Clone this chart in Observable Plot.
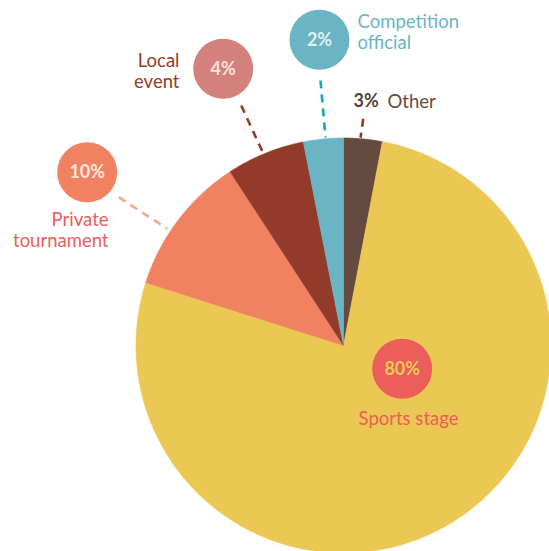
<!DOCTYPE html>
<html><head><meta charset="utf-8">
<script src="https://cdn.jsdelivr.net/npm/d3@7"></script>
<script src="https://cdn.jsdelivr.net/npm/@observablehq/plot@0.6"></script>
<style>html,body{margin:0;padding:0;overflow:hidden;background:#fff}</style>
</head><body><div id="chart"></div>
<script>
// ---- data (clockwise from 12 o'clock) ----
const categories = ["Other", "Sports stage", "Private tournament", "Local event", "Competition official"];
const sliceShares = [3.0, 76.9, 10.9, 6.1, 3.1];            // shares as drawn in the picture
const percentLabels = ["3%", "80%", "10%", "4%", "2%"];      // printed labels
const categoryLabels = ["Other", "Sports stage", "Private\ntournament", "Local\nevent", "Competition\nofficial"];

// ---- styles ----
const sliceColors = ["#654a3f", "#ebc854", "#f08262", "#933b2a", "#6ab5c3"];
const badgeColors = [null, "#eb5e5a", "#f08262", "#d4817e", "#6ab5c3"];
const badgeTextColors = ["#5a3f36", "#ebc854", "#fde6dc", "#f8e2df", "#dcf0f3"];
const labelColors = ["#654a3f", "#eb5e5a", "#eb5e5a", "#933b2a", "#6ab5c3"];
const leaderColors = ["#933b2a", null, "#f5a88d", "#933b2a", "#1aa5b8"];

// ---- layout (pixels) ----
const W = 549, H = 551;
const CX = 343, CY = 345, R = 207.5;
const badgePos = [null, [401.7, 368.3], [86.7, 171.7], [222.7, 68.3], [319, 39.3]];
const labelPos = [[387, 101], [408, 417.5], [108, 229.7], [179, 70.7], [357, 31.7]];
const labelAnchor = ["start", "middle", "end", "end", "start"];
const otherPctPos = [353, 101];
const leaderPos = [[362.7, 118.3, 360, 137.3], null, [118.3, 196.7, 166.7, 228.3], [240.7, 105, 263.3, 154], [320, 80, 325, 137]];

// ---- slice polygons from d3.pie ----
const arcs = d3.pie().sort(null).value(d => d)(sliceShares);
const slicePts = [];
arcs.forEach((a, i) => {
  const name = categories[i], color = sliceColors[i];
  slicePts.push({name, color, x: CX, y: CY});
  const n = Math.max(2, Math.ceil((a.endAngle - a.startAngle) / 0.01));
  for (let k = 0; k <= n; k++) {
    const t = a.startAngle + (a.endAngle - a.startAngle) * k / n;
    slicePts.push({name, color, x: CX + R * Math.sin(t), y: CY - R * Math.cos(t)});
  }
  slicePts.push({name, color, x: CX, y: CY});
});

const badges = categories.map((c, i) => ({c, i})).filter(d => badgePos[d.i]).map(({c, i}) => ({
  x: badgePos[i][0], y: badgePos[i][1], fill: badgeColors[i], text: percentLabels[i], tc: badgeTextColors[i]
}));
const labels = categories.map((c, i) => ({x: labelPos[i][0], y: labelPos[i][1], text: categoryLabels[i], color: labelColors[i], anchor: labelAnchor[i]}));
const leaders = categories.map((c, i) => leaderPos[i] ? {x1: leaderPos[i][0], y1: leaderPos[i][1], x2: leaderPos[i][2], y2: leaderPos[i][3], color: leaderColors[i]} : null).filter(Boolean);
const otherPct = [{x: otherPctPos[0], y: otherPctPos[1], text: percentLabels[0], color: badgeTextColors[0]}];

const textOpts = {fontSize: 18.5, lineHeight: 1.14};
const plot = Plot.plot({
  width: W, height: H, margin: 0,
  x: {domain: [0, W], range: [0, W], axis: null},
  y: {domain: [0, H], range: [0, H], axis: null},
  color: {type: "identity"},
  style: {fontFamily: "Lato, 'Open Sans', sans-serif", overflow: "hidden", background: "#fff"},
  marks: [
    Plot.line(slicePts, {x: "x", y: "y", z: "name", fill: "color", stroke: "color", strokeWidth: 0.6, curve: "linear"}),
    Plot.link(leaders, {x1: "x1", y1: "y1", x2: "x2", y2: "y2", stroke: "color", strokeWidth: 2.6, strokeDasharray: "8,6"}),
    Plot.dot(badges, {x: "x", y: "y", r: 30, fill: "fill"}),
    Plot.text(badges, {x: "x", y: "y", text: "text", fill: "tc", fontSize: 18, fontWeight: 700}),
    Plot.text(otherPct, {x: "x", y: "y", text: "text", fill: "color", fontSize: 18, fontWeight: 700, textAnchor: "start"}),
    Plot.text(labels.filter(d => d.anchor === "start"), {x: "x", y: "y", text: "text", fill: "color", textAnchor: "start", ...textOpts}),
    Plot.text(labels.filter(d => d.anchor === "end"), {x: "x", y: "y", text: "text", fill: "color", textAnchor: "end", ...textOpts}),
    Plot.text(labels.filter(d => d.anchor === "middle"), {x: "x", y: "y", text: "text", fill: "color", textAnchor: "middle", ...textOpts})
  ]
});
document.getElementById("chart").appendChild(plot);
</script>
</body></html>
